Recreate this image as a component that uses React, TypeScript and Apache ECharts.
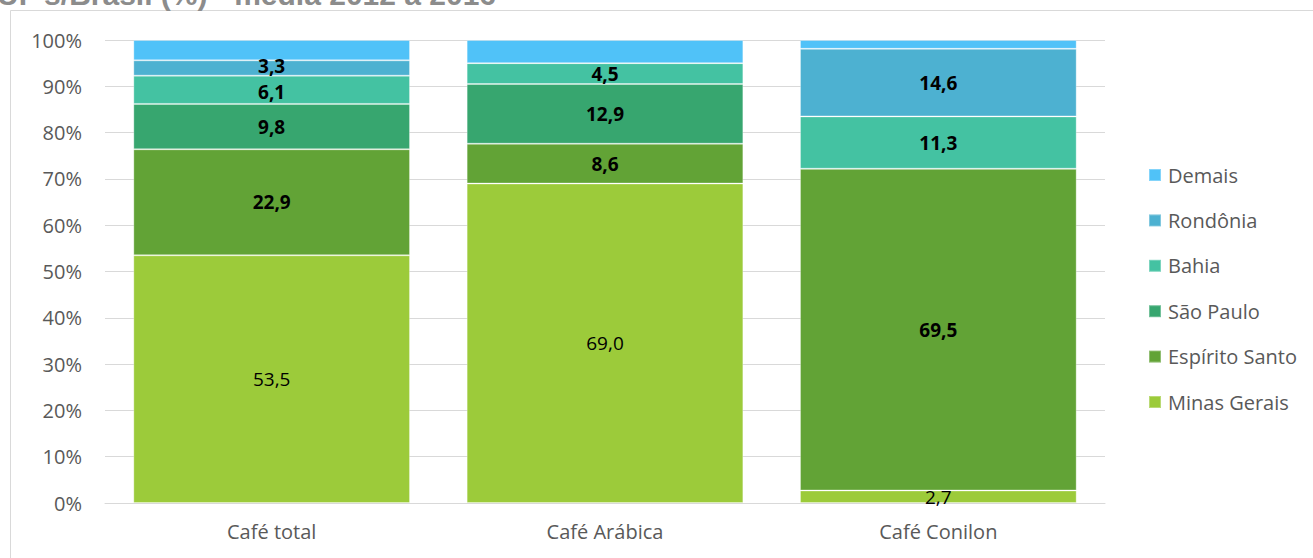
import React, { useEffect, useRef } from "react";
import * as echarts from "echarts";

const categories = ["Café total", "Café Arábica", "Café Conilon"];
const minasGerais = [53.5, 69.0, 2.7];
const espiritoSanto = [22.9, 8.6, 69.5];
const saoPaulo = [9.8, 12.9, 0];
const bahia = [6.1, 4.5, 11.3];
const rondonia = [3.3, 0, 14.6];
const demais = [4.4, 5.0, 1.9];
const yTicks = [0, 10, 20, 30, 40, 50, 60, 70, 80, 90, 100];

const FONT = "'Open Sans', 'Noto Sans', sans-serif";

export default function App() {
  const ref = useRef<HTMLDivElement>(null);
  useEffect(() => {
    if (!ref.current) return;
    const chart = echarts.init(ref.current, undefined, { renderer: "svg" });
    const fmt = (p: any) => (p.value ? Number(p.value).toFixed(1).replace(".", ",") : "");
    const mk = (
      name: string,
      data: number[],
      color: string,
      showLabel: boolean,
      bold: boolean,
      offsets: number[] = []
    ) => ({
      name,
      type: "bar",
      stack: "total",
      data: data.map((v, i) => (offsets[i] ? { value: v, label: { offset: [0, offsets[i]] } } : v)),
      barCategoryGap: "17%",
      itemStyle: { color, borderColor: "rgba(255,255,255,0.3)", borderWidth: 1 },
      label: {
        show: showLabel,
        position: "inside",
        formatter: fmt,
        color: "#000",
        fontSize: 19,
        lineHeight: 16,
        fontFamily: FONT,
        fontWeight: bold ? "bold" : "normal",
      },
    });
    chart.setOption({
      animation: false,
      textStyle: { fontFamily: FONT },
      graphic: [
        {
          type: "rect",
          shape: { x: 10.5, y: 10.5, width: 1400, height: 700 },
          style: { fill: "none", stroke: "#d9d9d9", lineWidth: 1 },
          silent: true,
        },
        {
          type: "text",
          x: -3,
          y: 9,
          style: {
            text: "UF's/Brasil (%) - média 2012 a 2016",
            fill: "#8c8c8c",
            fontSize: 30,
            fontWeight: "bold",
            fontFamily: "'Liberation Sans', Arial, sans-serif",
            verticalAlign: "bottom",
          },
          silent: true,
        },
      ],
      grid: { left: 105, right: 208, top: 40, bottom: 55, containLabel: false },
      legend: {
        orient: "vertical",
        left: 1143,
        top: 160,
        itemWidth: 12,
        itemHeight: 12,
        itemGap: 25.4,
        icon: "rect",
        data: ["Demais", "Rondônia", "Bahia", "São Paulo", "Espírito Santo", "Minas Gerais"],
        textStyle: { color: "#595959", fontSize: 20, fontFamily: FONT, padding: [0, 0, 0, 2] },
      },
      xAxis: {
        type: "category",
        data: categories,
        axisLine: { show: true, lineStyle: { color: "#d9d9d9" } },
        axisTick: { show: false },
        axisLabel: { color: "#595959", fontSize: 20, fontFamily: FONT, margin: 18 },
      },
      yAxis: {
        type: "value",
        min: yTicks[0],
        max: yTicks[yTicks.length - 1],
        interval: 10,
        axisLine: { show: false },
        axisTick: { show: false },
        splitLine: { lineStyle: { color: "#d9d9d9", width: 1 } },
        axisLabel: { color: "#595959", fontSize: 20, fontFamily: FONT, margin: 23, formatter: "{value}%" },
      },
      series: [
        mk("Minas Gerais", minasGerais, "#9ccb3a", true, false),
        mk("Espírito Santo", espiritoSanto, "#62a336", true, true),
        mk("São Paulo", saoPaulo, "#37a66f", true, true),
        mk("Bahia", bahia, "#44c2a2", true, true, [2, 0, 0]),
        mk("Rondônia", rondonia, "#4db1d1", true, true, [-2, 0, 0]),
        mk("Demais", demais, "#50c2f8", false, false),
      ],
    });
    return () => chart.dispose();
  }, []);
  return (
    <div
      ref={ref}
      style={{ position: "fixed", left: 0, top: 0, width: 1313, height: 558, background: "#fff" }}
    />
  );
}
